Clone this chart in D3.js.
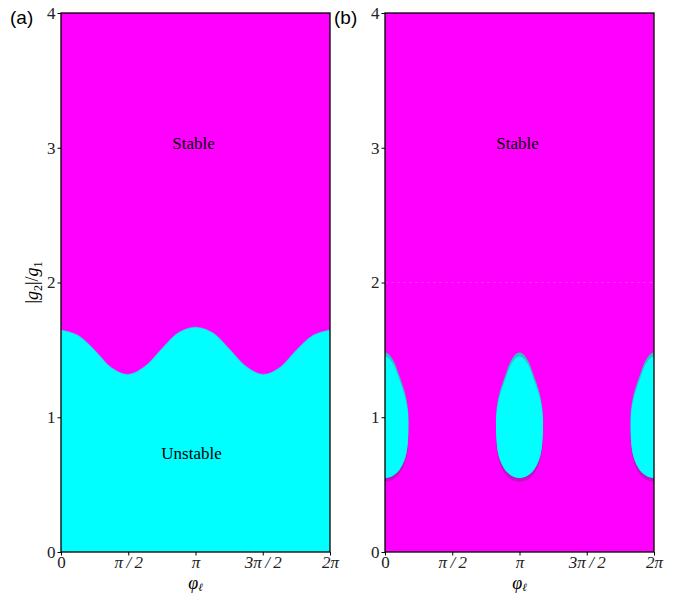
<!DOCTYPE html>
<html>
<head>
<meta charset="utf-8">
<script src="https://cdn.jsdelivr.net/npm/d3@7"></script>
<style>
  body { margin: 0; background: #fff; }
  svg text { font-family: "Liberation Serif", "DejaVu Serif", serif; }
</style>
</head>
<body>
<div id="chart"></div>
<script>
// boundary of the unstable region, panel (a): phi in units of pi, |g2|/g1
const boundaryPhi = [0, 0.125, 0.25, 0.375, 0.5, 0.625, 0.75, 0.875, 1,
                     1.125, 1.25, 1.375, 1.5, 1.625, 1.75, 1.875, 2];
const boundaryG = [1.65, 1.61, 1.50, 1.37, 1.32, 1.38, 1.51, 1.63, 1.67,
                   1.63, 1.51, 1.38, 1.32, 1.37, 1.50, 1.61, 1.65];

// unstable islands, panel (b): centres (units of pi) and half width (rad) vs |g2|/g1
const islandCentres = [0, 1, 2];
const islandG = [0.55, 0.555, 0.57, 0.60, 0.65, 0.72, 0.80, 0.93, 1.05, 1.15, 1.25, 1.33, 1.40, 1.44, 1.47, 1.48];
const islandHalf = [0, 0.10, 0.20, 0.31, 0.41, 0.49, 0.53, 0.55, 0.54, 0.49, 0.40, 0.31, 0.23, 0.16, 0.08, 0];

const xTicks = [0, 0.5, 1, 1.5, 2];
const xTickLabels = ["0", "π\u2009/\u20092", "π", "3π\u2009/\u20092", "2π"];
const yTicks = [0, 1, 2, 3, 4];

const W = 685, H = 593;
const plotTop = 13, plotBottom = 552;
const panels = [
  {id: "a", left: 61, right: 330},
  {id: "b", left: 385, right: 654}
];

const svg = d3.select("#chart").append("svg")
    .attr("width", W)
    .attr("height", H);

const y = d3.scaleLinear().domain([0, 4]).range([plotBottom, plotTop]);

panels.forEach((p) => {
    const x = d3.scaleLinear().domain([0, 2]).range([p.left, p.right]);
    const g = svg.append("g");

    const clipId = "clip-" + p.id;
    svg.append("clipPath").attr("id", clipId)
       .append("rect")
       .attr("x", p.left).attr("y", plotTop)
       .attr("width", p.right - p.left).attr("height", plotBottom - plotTop);

    const plot = g.append("g").attr("clip-path", "url(#" + clipId + ")");
    plot.append("rect")
        .attr("x", p.left).attr("y", plotTop)
        .attr("width", p.right - p.left).attr("height", plotBottom - plotTop)
        .attr("fill", "#ff00ff");

    if (p.id == "a") {
        const pts = boundaryPhi.map((d, i) => [d, boundaryG[i]]);
        const area = d3.area()
            .x((d) => x(d[0]))
            .y0(y(0))
            .y1((d) => y(d[1]))
            .curve(d3.curveCatmullRom);
        plot.append("path")
            .attr("d", area(pts))
            .attr("fill", "#00ffff");
        const line = d3.line()
            .x((d) => x(d[0]))
            .y((d) => y(d[1]))
            .curve(d3.curveCatmullRom);
        plot.append("path")
            .attr("d", line(pts))
            .attr("fill", "none")
            .attr("stroke", "#9a70e8")
            .attr("stroke-opacity", 0.5)
            .attr("stroke-width", 1);
    } else {
        // faint line at |g2|/g1 = 2
        plot.append("line")
            .attr("x1", p.left).attr("x2", p.right)
            .attr("y1", y(2)).attr("y2", y(2))
            .attr("stroke", "#ff60ff")
            .attr("stroke-opacity", 0.6)
            .attr("stroke-dasharray", "3,3")
            .attr("stroke-width", 0.8);

        const pxPerRad = (p.right - p.left) / (2 * Math.PI);
        const line = d3.line()
            .x((d) => d[0])
            .y((d) => y(d[1]))
            .curve(d3.curveCatmullRomClosed);

        islandCentres.forEach((c, k) => {
            const cx = x(c);
            const pts = [];
            islandG.forEach((gv, i) => {
                if (i == 0 || i == islandG.length - 1) return;
                pts.push([cx + islandHalf[i] * pxPerRad, gv]);
            });
            pts.push([cx, islandG[islandG.length - 1]]);
            for (let i = islandG.length - 2; i > 0; i--) {
                pts.push([cx - islandHalf[i] * pxPerRad, islandG[i]]);
            }
            pts.push([cx, islandG[0]]);
            const d = line(pts);

            const idShape = "island-" + p.id + k;
            svg.append("clipPath").attr("id", idShape)
               .append("path").attr("d", d);

            plot.append("path").attr("d", d)
                .attr("transform", "translate(0,4)")
                .attr("fill", "#c410c8");
            plot.append("path").attr("d", d)
                .attr("fill", "#28c4c8");
            plot.append("g").attr("clip-path", "url(#" + idShape + ")")
                .append("path").attr("d", d)
                .attr("transform", "translate(0,4)")
                .attr("fill", "#00ffff");
        });
    }

    // frame
    g.append("rect")
        .attr("x", p.left).attr("y", plotTop)
        .attr("width", p.right - p.left).attr("height", plotBottom - plotTop)
        .attr("fill", "none")
        .attr("stroke", "#000")
        .attr("stroke-width", 1.3);

    // axes
    const xAxis = g.append("g")
        .attr("transform", "translate(0," + plotBottom + ")")
        .call(d3.axisBottom(x).tickValues(xTicks)
              .tickFormat((d, i) => xTickLabels[i]).tickSize(3.5).tickPadding(0));
    const yAxis = g.append("g")
        .attr("transform", "translate(" + p.left + ",0)")
        .call(d3.axisLeft(y).tickValues(yTicks).tickFormat(d3.format("d"))
              .tickSize(3.5).tickPadding(2));
    [xAxis, yAxis].forEach((a) => {
        a.select(".domain").remove();
        a.selectAll("line").attr("stroke", "#000").attr("stroke-width", 1);
        a.selectAll("text")
            .attr("font-family", "Liberation Serif, DejaVu Serif, serif")
            .attr("font-size", 17)
            .attr("fill", "#222");
    });
    xAxis.selectAll("text").attr("font-style", (d, i) => i == 0 ? "normal" : "italic");

    // x label
    const xl = g.append("text")
        .attr("x", (p.left + p.right) / 2)
        .attr("y", 589)
        .attr("text-anchor", "middle")
        .attr("font-size", 18);
    xl.append("tspan").attr("font-style", "italic").text("φ");
    xl.append("tspan").attr("font-style", "italic").attr("font-size", 11)
      .attr("dy", 2).text("ℓ");

    // panel label
    g.append("text")
        .attr("x", p.left - 51)
        .attr("y", 24)
        .style("font-family", "Liberation Sans, Arial, sans-serif")
        .attr("font-size", 19)
        .text("(" + p.id + ")");

    g.append("text")
        .attr("x", x(1) - 2)
        .attr("y", 149)
        .attr("text-anchor", "middle")
        .attr("font-size", 17)
        .text("Stable");
    if (p.id == "a") {
        g.append("text")
            .attr("x", x(1) - 4)
            .attr("y", 459)
            .attr("text-anchor", "middle")
            .attr("font-size", 17)
            .text("Unstable");
    }
});

// y label
const yl = svg.append("text")
    .attr("transform", "translate(38," + y(2) + ") rotate(-90)")
    .attr("text-anchor", "middle")
    .attr("font-size", 18);
yl.append("tspan").text("|");
yl.append("tspan").attr("font-style", "italic").text("g");
yl.append("tspan").attr("font-size", 12).attr("dy", 4).text("2");
yl.append("tspan").attr("dy", -4).text("|/");
yl.append("tspan").attr("font-style", "italic").text("g");
yl.append("tspan").attr("font-size", 12).attr("dy", 4).text("1");
</script>
</body>
</html>
